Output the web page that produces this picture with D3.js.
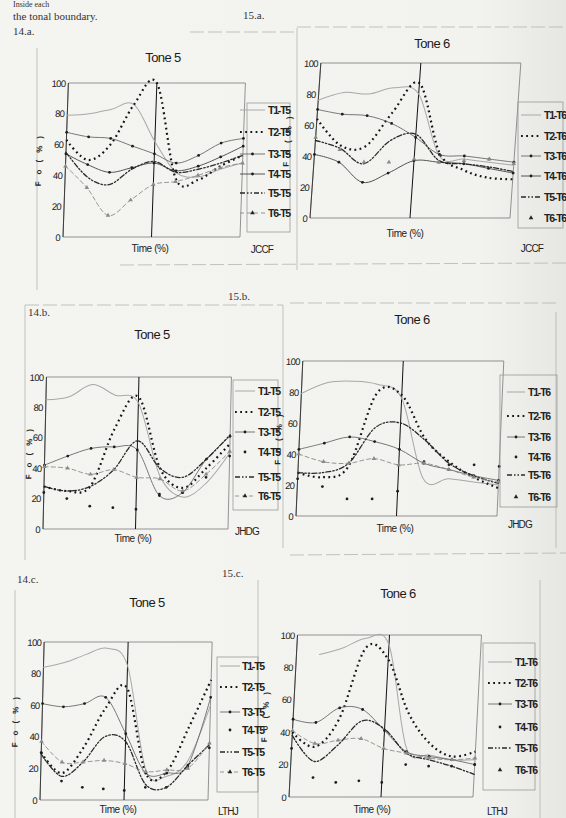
<!DOCTYPE html>
<html>
<head>
<meta charset="utf-8">
<script src="https://cdn.jsdelivr.net/npm/d3@7"></script>
<style>
  body { margin: 0; background: #f2f2ef; }
  svg { display: block; }
  .serif { font-family: "Liberation Serif", "DejaVu Serif", serif; fill: #333; }
  .narrow { font-family: "Liberation Sans Narrow", "Liberation Sans", Arial, sans-serif; fill: #222; }
</style>
</head>
<body>
<div id="page"></div>
<script>
// time points (% of syllable), the tonal boundary sits at 50
const timePoints = [0, 12.5, 25, 37.5, 50, 62.5, 75, 87.5, 100]
const boundary = 50
const yTicks = [0, 20, 40, 60, 80, 100]
const seriesT5 = ["T1-T5", "T2-T5", "T3-T5", "T4-T5", "T5-T5", "T6-T5"]
const seriesT6 = ["T1-T6", "T2-T6", "T3-T6", "T4-T6", "T5-T6", "T6-T6"]

// F0 (%) per series
const jccfTone5 = [
  [79, 80, 83, 86, 62, 42, 39, 44, 48],
  [63, 50, 60, 86, 100, 38, 37, 46, 53],
  [68, 65, 64, 59, 54, 48, 53, 61, 64],
  [54, 47, 42, 45, 48, 43, 46, 52, 59],
  [55, 39, 34, 44, 49, 42, 44, 48, 53],
  [46, 32, 14, 24, 34, 36, 40, 45, 48]
]
const jccfTone6 = [
  [76, 81, 80, 84, 80, 40, 38, 36, 34],
  [64, 47, 46, 68, 87, 42, 31, 26, 25],
  [70, 67, 66, 61, 52, 41, 40, 38, 36],
  [41, 36, 23, 29, 37, 36, 35, 32, 29],
  [50, 45, 35, 50, 54, 37, 35, 33, 30],
  [52, 44, 36, 36, 38, 36, 37, 38, 35]
]
const jhdgTone5 = [
  [85, 87, 95, 88, 83, 35, 21, 30, 50],
  [28, 25, 28, 66, 87, 40, 27, 40, 56],
  [42, 48, 53, 54, 52, 22, 24, 46, 61],
  [24, 20, 15, 14, 13, 23, 24, 34, 48],
  [28, 25, 28, 39, 58, 40, 34, 46, 62],
  [41, 40, 36, 39, 34, 33, 25, 36, 51]
]
const jhdgTone6 = [
  [79, 86, 87, 85, 76, 24, 24, 22, 20],
  [28, 25, 32, 79, 78, 50, 35, 25, 18],
  [43, 47, 51, 48, 43, 34, 30, 26, 23],
  [24, 19, 11, 11, 16, 35, 33, 33, 32],
  [28, 28, 34, 57, 60, 49, 34, 26, 21],
  [40, 35, 34, 37, 33, 34, 30, 25, 22]
]
const lthjTone5 = [
  [84, 87, 92, 96, 85, 19, 15, 25, 60],
  [30, 17, 33, 58, 71, 17, 18, 46, 76],
  [61, 59, 61, 65, 42, 17, 17, 22, 65],
  [30, 12, 8, 7, 6, 8, 8, 21, 33],
  [29, 15, 24, 40, 37, 10, 8, 22, 35],
  [37, 24, 24, 25, 23, 18, 19, 20, 36]
]
const lthjTone6 = [
  [null, 88, 92, 98, 94, 30, 26, 23, 23],
  [40, 31, 48, 92, 85, 52, 33, 25, 28],
  [48, 46, 55, 54, 41, 28, 25, 23, 20],
  [30, 12, 9, 10, 9, 20, 19, 19, 20],
  [38, 22, 32, 47, 42, 27, 23, 19, 14],
  [41, 33, 35, 36, 30, 27, 24, 23, 24]
]

// line look for T1..T6
const styles = [
  { stroke: "#a8a8a8", width: 1, dash: null, marker: null },
  { stroke: "#151515", width: 2.2, dash: "1.8,3.4", marker: null },
  { stroke: "#6a6a6a", width: 0.9, dash: null, marker: "dot" },
  { stroke: "#444", width: 0.9, dash: null, marker: "dot" },
  { stroke: "#2a2a2a", width: 1.3, dash: "5,2,1.5,2,1.5,2", marker: null },
  { stroke: "#8a8a8a", width: 0.9, dash: "4,3", marker: "tri" }
]

const panels = [
  { data: jccfTone5, names: seriesT5, tone: 5, spk: "JCCF", left: 63, right: 240, top: 83, bottom: 237, skew: 2,
    title: [163, 62], time: [150, 252], spkPos: [262, 253], ylab: 24, only: [],
    legend: { lx: 268, sx: [240, 265], rows: [110, 132, 154, 174, 193, 213], box: [247, 103, 290, 232] } },
  { data: jccfTone6, names: seriesT6, tone: 6, spk: "JCCF", left: 310, right: 510, top: 63, bottom: 218, skew: 4,
    title: [432, 48], time: [405, 237], spkPos: [532, 252], ylab: 25, only: [5],
    legend: { lx: 544, sx: [521, 541], rows: [115, 136, 156, 176, 197, 218], box: [518, 102, 563, 228] } },
  { data: jhdgTone5, names: seriesT5, tone: 5, spk: "JHDG", left: 43, right: 228, top: 377, bottom: 529, skew: 1.3,
    title: [152, 339], time: [133, 542], spkPos: [247, 535], ylab: 13, only: [3],
    legend: { lx: 258, sx: [235, 255], rows: [391, 412, 432, 452, 477, 496], box: [233, 380, 278, 510] } },
  { data: jhdgTone6, names: seriesT6, tone: 6, spk: "JHDG", left: 296, right: 497, top: 361, bottom: 516, skew: 2.5,
    title: [412, 324], time: [395, 532], spkPos: [520, 528], ylab: 18, only: [3],
    legend: { lx: 528, sx: [507, 525], rows: [392, 416, 437, 457, 475, 497], box: [500, 375, 557, 507] } },
  { data: lthjTone5, names: seriesT5, tone: 5, spk: "LTHJ", left: 40, right: 208, top: 642, bottom: 800, skew: 1.5,
    title: [147, 607], time: [118, 813], spkPos: [228, 815], ylab: 24, only: [3],
    legend: { lx: 242, sx: [220, 240], rows: [666, 687, 712, 730, 752, 772], box: [217, 657, 258, 792] } },
  { data: lthjTone6, names: seriesT6, tone: 6, spk: "LTHJ", left: 289, right: 473, top: 635, bottom: 797, skew: 3,
    title: [398, 598], time: [372, 813], spkPos: [497, 815], ylab: 25, only: [3],
    legend: { lx: 515, sx: [488, 512], rows: [662, 683, 704, 727, 748, 770], box: [483, 643, 535, 790] } }
]

const W = 566, H = 818
const svg = d3.select("#page").append("svg").attr("width", W).attr("height", H)

// scanned paper
const grad = svg.append("defs").append("linearGradient").attr("id", "paper")
grad.append("stop").attr("offset", "0%").attr("stop-color", "#f4f4f1")
grad.append("stop").attr("offset", "85%").attr("stop-color", "#f2f2ef")
grad.append("stop").attr("offset", "100%").attr("stop-color", "#e6e6e2")
svg.append("rect").attr("width", W).attr("height", H).attr("fill", "url(#paper)")

// page text
const page = [
  ["Inside  each", 13, 7, 8], ["the tonal boundary.", 13, 20, 11], ["14.a.", 13, 35, 11], ["15.a.", 243, 19, 11],
  ["14.b.", 28, 316, 11], ["15.b.", 228, 300, 11], ["14.c.", 17, 583, 11], ["15.c.", 222, 577, 11]
]
svg.selectAll("text.pg").data(page).join("text").attr("class", "serif pg")
  .attr("x", d => d[1]).attr("y", d => d[2]).attr("font-size", d => d[3]).text(d => d[0])

// faint frame lines of the figure boxes
const frames = [
  [37, 48, 37, 290], [297, 28, 297, 270], [190, 32, 295, 32], [297, 27, 566, 27], [120, 265, 566, 263],
  [25, 305, 25, 560], [283, 305, 283, 548], [25, 305, 283, 305], [290, 303, 560, 303], [556, 312, 556, 548], [290, 555, 566, 553],
  [15, 590, 15, 818], [258, 580, 258, 818], [540, 580, 540, 818]
]
svg.selectAll("line.fr").data(frames).join("line").attr("class", "fr")
  .attr("x1", d => d[0]).attr("y1", d => d[1]).attr("x2", d => d[2]).attr("y2", d => d[3])
  .attr("stroke", "#b4b4b0").attr("stroke-width", 0.8)
  .attr("stroke-dasharray", d => Math.abs(d[1] - d[3]) < 4 ? "14,4" : null)

function marker(sel, kind, color) {
  if (kind == "tri") {
    sel.append("path").attr("d", d3.symbol(d3.symbolTriangle, 9)).attr("fill", color)
  } else {
    sel.append("circle").attr("r", 1.4).attr("fill", "#1d1d1d")
  }
}

panels.forEach(p => {
  const x = d3.scaleLinear().domain([0, 100]).range([p.left, p.right])
  const y = d3.scaleLinear().domain([0, 100]).range([p.bottom, p.top])

  const g = svg.append("g")
    .attr("transform", `translate(0,${p.bottom}) skewX(${-p.skew}) translate(0,${-p.bottom})`)

  g.append("rect").attr("x", p.left).attr("y", p.top)
    .attr("width", p.right - p.left).attr("height", p.bottom - p.top)
    .attr("fill", "none").attr("stroke", "#7a7a7a").attr("stroke-width", 0.8)
  g.append("line").attr("x1", p.left).attr("x2", p.left).attr("y1", p.top).attr("y2", p.bottom)
    .attr("stroke", "#333").attr("stroke-width", 0.9)

  const ax = g.append("g").attr("transform", `translate(${p.left},0)`)
    .call(d3.axisLeft(y).tickValues(yTicks).tickSize(0).tickPadding(3))
  ax.select(".domain").remove()
  ax.selectAll("text").attr("class", "narrow").attr("font-size", 9.5).attr("letter-spacing", -0.7)

  g.append("text").attr("class", "narrow")
    .attr("transform", `translate(${p.left - p.ylab},${y(50)}) rotate(-90)`)
    .attr("text-anchor", "middle").attr("font-size", 8).attr("font-weight", "bold").attr("letter-spacing", 2.4)
    .text("F o ( % )")

  // boundary
  g.append("line").attr("x1", x(boundary)).attr("x2", x(boundary))
    .attr("y1", y(0)).attr("y2", y(100)).attr("stroke", "#111").attr("stroke-width", 1)

  const line = d3.line()
    .defined(v => v != null)
    .x((v, i) => x(timePoints[i]))
    .y(v => y(v))
    .curve(d3.curveCardinal.tension(0))

  p.data.forEach((vals, s) => {
    const st = styles[s]
    if (!p.only.includes(s)) {
      g.append("path").datum(vals).attr("d", line)
        .attr("fill", "none").attr("stroke", st.stroke).attr("stroke-width", st.width)
        .attr("stroke-dasharray", st.dash).attr("stroke-linecap", s == 1 ? "butt" : "round")
    }
    const mk = st.marker || (p.only.includes(s) ? "dot" : null)
    if (mk) {
      g.selectAll(null).data(vals.map((v, i) => [timePoints[i], v]).filter(d => d[1] != null))
        .join("g").attr("transform", d => `translate(${x(d[0])},${y(d[1])})`)
        .call(sel => marker(sel, mk, st.stroke))
    }
  })

  // titles and labels
  svg.append("text").attr("x", p.title[0]).attr("y", p.title[1]).attr("text-anchor", "middle")
    .attr("font-family", "Liberation Sans, Arial, sans-serif").attr("font-size", 13)
    .attr("letter-spacing", -0.6).attr("fill", "#1a1a1a").text("Tone " + p.tone)
  svg.append("text").attr("class", "narrow").attr("x", p.time[0]).attr("y", p.time[1])
    .attr("text-anchor", "middle").attr("font-size", 10).attr("letter-spacing", -0.4).text("Time (%)")
  svg.append("text").attr("class", "narrow").attr("x", p.spkPos[0]).attr("y", p.spkPos[1])
    .attr("text-anchor", "middle").attr("font-size", 10).attr("letter-spacing", -0.8).text(p.spk)

  // legend
  const L = p.legend
  svg.append("rect").attr("x", L.box[0]).attr("y", L.box[1])
    .attr("width", L.box[2] - L.box[0]).attr("height", L.box[3] - L.box[1])
    .attr("fill", "none").attr("stroke", "#9a9a96").attr("stroke-width", 0.8)
  p.names.forEach((n, s) => {
    const st = styles[s]
    const ry = L.rows[s]
    const onlyMk = p.only.includes(s) || (s == 5 && p.tone == 6)
    if (!onlyMk) {
      svg.append("line").attr("x1", L.sx[0]).attr("x2", L.sx[1]).attr("y1", ry).attr("y2", ry)
        .attr("stroke", st.stroke).attr("stroke-width", st.width).attr("stroke-dasharray", st.dash)
    }
    const mk = st.marker || (onlyMk ? "dot" : null)
    if (mk) {
      svg.append("g").attr("transform", `translate(${(L.sx[0] + L.sx[1]) / 2},${ry})`)
        .call(sel => marker(sel, mk, "#222"))
    }
    svg.append("text").attr("class", "narrow").attr("x", L.lx).attr("y", ry + 4)
      .attr("font-size", 10.5).attr("font-weight", "bold").attr("letter-spacing", -1.2).text(n)
  })
})
</script>
</body>
</html>
